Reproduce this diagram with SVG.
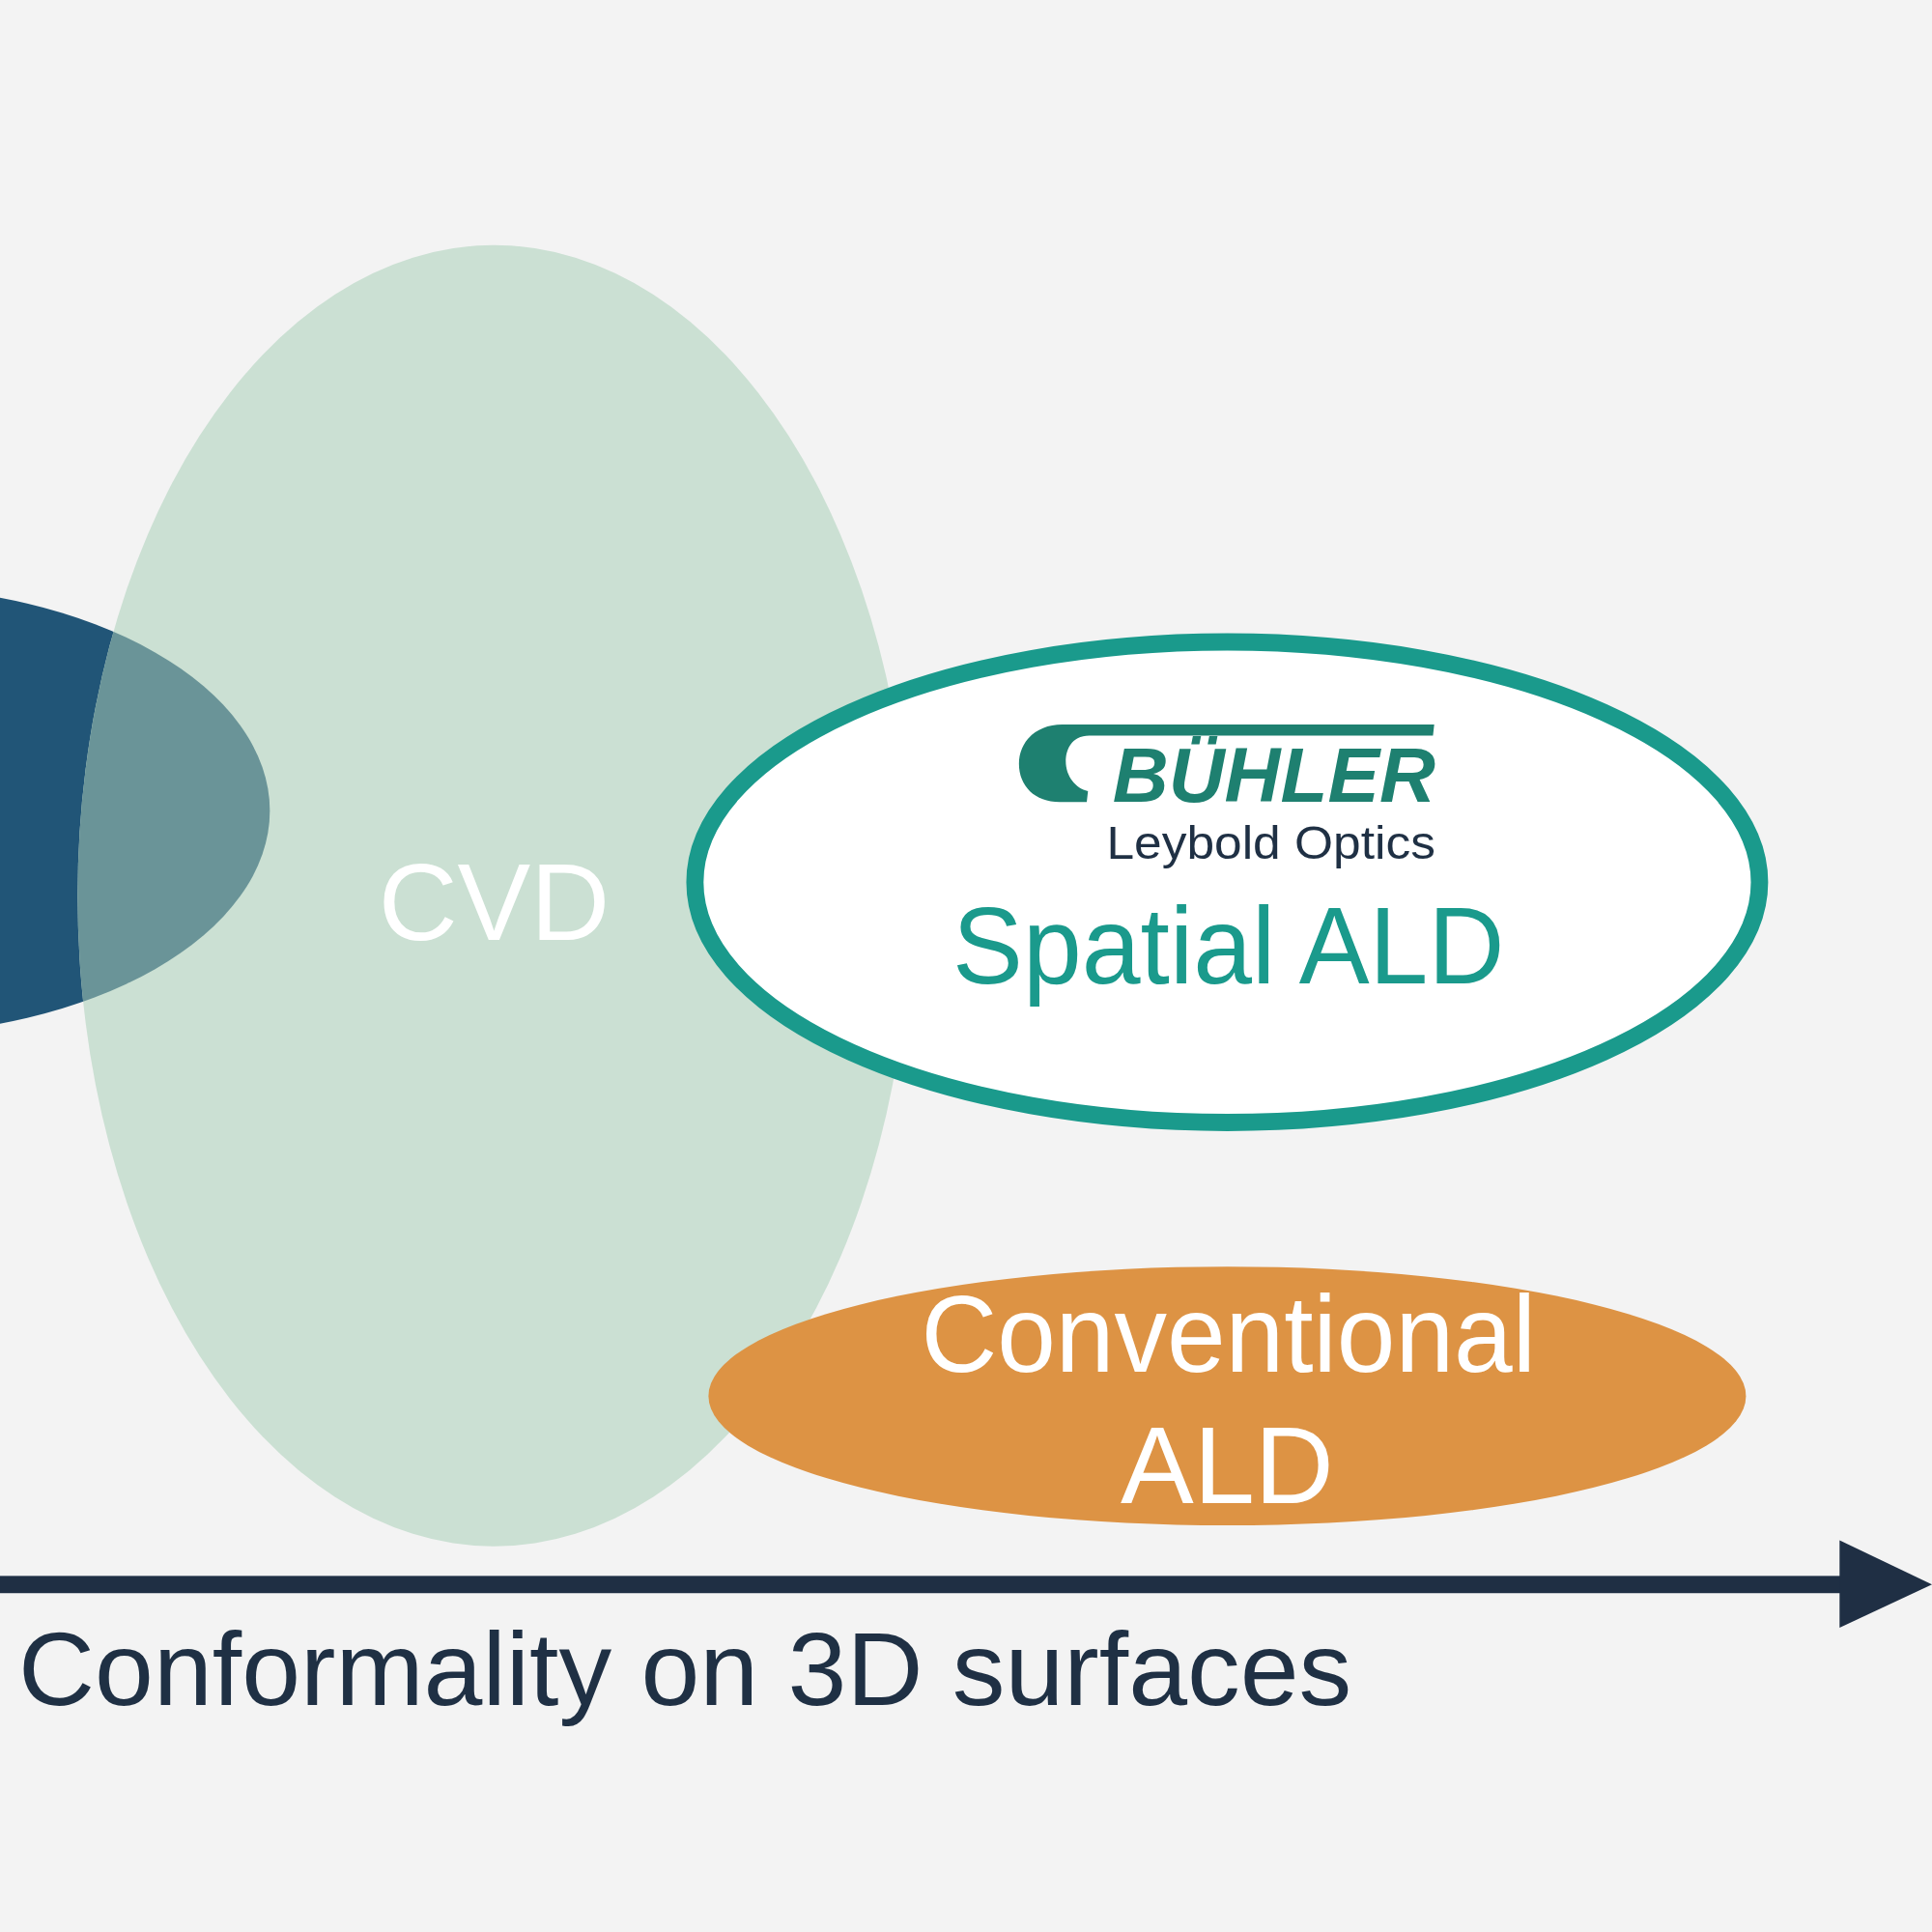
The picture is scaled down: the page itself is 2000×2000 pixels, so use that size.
<svg xmlns="http://www.w3.org/2000/svg" width="2000" height="2000" viewBox="0 0 2000 2000">
<style>
.t{font-family:"Liberation Sans",Arial,sans-serif;text-anchor:middle}
</style>
<defs>
<clipPath id="cvdclip"><ellipse cx="401" cy="727" rx="338" ry="528"/></clipPath>
</defs>
<rect width="2000" height="2000" fill="#f3f3f3"/>
<g transform="scale(1.27551)">
<g id="pvd"><ellipse cx="-100" cy="658" rx="319" ry="182" fill="#215577"/></g>
<g id="cvd">
<ellipse cx="401" cy="727" rx="338" ry="528" fill="#cbe0d3"/>
<ellipse cx="-100" cy="658" rx="319" ry="182" fill="#6a9498" clip-path="url(#cvdclip)"/>
<text class="t" x="401" y="763" font-size="89" fill="#ffffff">CVD</text>
</g>
<g id="spatial">
<ellipse cx="996" cy="716" rx="432" ry="195" fill="#ffffff" stroke="#1a9a8c" stroke-width="14"/>
<path d="M862,588 L1164,588 L1163,597 L884,597 C870,597 865,608 865,618 C865,630 873,640 883,642 L882,651 L860,651 C840,651 827,638 827,620 C827,601 842,588 862,588 Z" fill="#1e8070"/>
<text x="903" y="651" font-family="Liberation Sans,Arial,sans-serif" font-weight="bold" font-style="italic" font-size="63" fill="#1e8070" textLength="262" lengthAdjust="spacingAndGlyphs">BÜHLER</text>
<text x="898" y="697" font-family="Liberation Sans,Arial,sans-serif" font-size="38" fill="#1f3044" textLength="267" lengthAdjust="spacingAndGlyphs">Leybold Optics</text>
<text class="t" x="997" y="798" font-size="89" fill="#1a9a8c" textLength="448" lengthAdjust="spacingAndGlyphs">Spatial ALD</text>
</g>
<g id="conventional">
<ellipse cx="996" cy="1133" rx="421" ry="105" fill="#dd9344"/>
<text class="t" x="997" y="1113" font-size="89" fill="#ffffff" textLength="499" lengthAdjust="spacingAndGlyphs">Conventional</text>
<text class="t" x="996" y="1220" font-size="89" fill="#ffffff">ALD</text>
</g>
<g id="connectors">
<rect x="0" y="1279" width="1495" height="14" fill="#1f2f44"/>
<polygon points="1493,1250 1568,1286 1493,1321" fill="#1f2f44"/>
</g>
<text x="15" y="1384" font-family="Liberation Sans,Arial,sans-serif" font-size="84" fill="#1f3044" textLength="1082" lengthAdjust="spacingAndGlyphs">Conformality on 3D surfaces</text>
</g>
</svg>
